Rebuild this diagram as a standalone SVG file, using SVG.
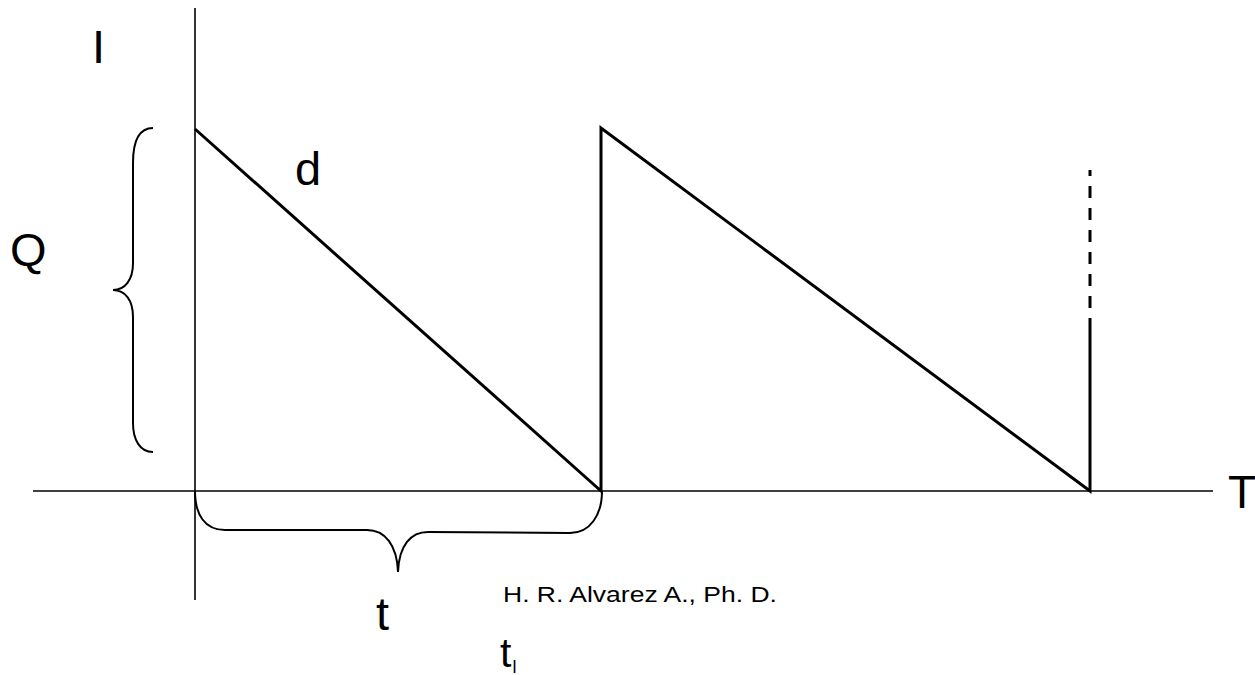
<svg xmlns="http://www.w3.org/2000/svg" width="1255" height="675" viewBox="0 0 1255 675">
<style>
.axis{stroke:#000;stroke-width:1.6;fill:none}
.saw{stroke:#000;stroke-width:3;fill:none;stroke-linejoin:miter}
.brace{stroke:#000;stroke-width:2;fill:none}
.lbl{font-family:"Liberation Sans",Arial,sans-serif;fill:#000}
</style>
<rect width="1255" height="675" fill="#fff"/>
<g id="axes">
<line class="axis" x1="195" y1="8" x2="195" y2="600"/>
<line class="axis" x1="33" y1="491" x2="1213" y2="491"/>
</g>
<g id="connectors">
<polyline class="saw" points="195,129 601,491 601,128 1090,491 1090,330"/>
<line class="saw" x1="1090" y1="330" x2="1090" y2="170" stroke-dasharray="12 10"/>
</g>
<g id="brace-Q">
<path class="brace" d="M153,128 C140,128 133,140 133,163 L133,263 C133,280 125,290 113,290 C125,290 133,300 133,317 L133,423 C133,440 140,452 153,452"/>
</g>
<g id="brace-t">
<path class="brace" d="M195,491 C195,515 205,530 225,530 L367,530 C385,530 397,545 398,572 C399,545 411,532 428,532 L570,533 C590,533 602,515 602,491"/>
</g>
<g id="labels">
<text class="lbl" x="92" y="63" font-size="47">I</text>
<text class="lbl" x="10" y="266" font-size="47">Q</text>
<text class="lbl" x="295" y="185" font-size="47">d</text>
<text class="lbl" x="1228" y="508" font-size="46">T</text>
<text class="lbl" x="376" y="630" font-size="47">t</text>
<text class="lbl" x="503" y="602" font-size="22" textLength="274" lengthAdjust="spacingAndGlyphs">H. R. Alvarez A., Ph. D.</text>
<text class="lbl" x="500" y="667" font-size="41">t<tspan font-size="18" dx="1" dy="6">l</tspan></text>
</g>
</svg>
